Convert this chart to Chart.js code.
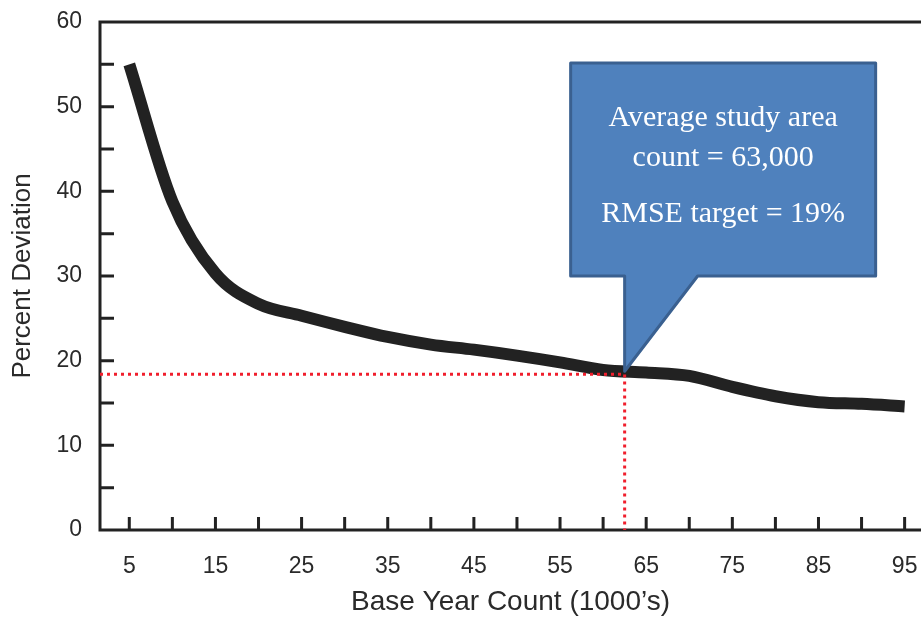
<!DOCTYPE html>
<html>
<head>
<meta charset="utf-8">
<script src="https://cdn.jsdelivr.net/npm/chart.js@4/dist/chart.umd.min.js"></script>
<style>
  body { margin: 0; background: #fff; }
  .wrap { width: 921px; height: 620px; }
</style>
</head>
<body>
<div class="wrap"><canvas id="chart"></canvas></div>
<script>
const baseCount = [5, 10, 15, 20, 25, 30, 35, 40, 45, 50, 55, 60, 65, 70, 75, 80, 85, 90, 95];
const pctDeviation = [55, 38.8, 30.3, 26.7, 25.3, 24, 22.8, 21.9, 21.3, 20.6, 19.8, 18.9, 18.6, 18.2, 16.9, 15.8, 15.1, 14.9, 14.6];

// red dotted guide to the target point
const guideX = [1.6, 62.5, 62.5];
const guideY = [18.4, 18.4, 0];

const xTickLabels = [5, 15, 25, 35, 45, 55, 65, 75, 85, 95];
const xTickMarks = [5, 10, 15, 20, 25, 30, 35, 40, 45, 50, 55, 60, 65, 70, 75, 80, 85, 90, 95];
const yTickMarks = [5, 10, 15, 20, 25, 30, 35, 40, 45, 50, 55];

const calloutLines = ['Average study area', 'count = 63,000', 'RMSE target = 19%'];

const FONT = "'Liberation Sans', Arial, sans-serif";
const INK = '#2a2a2a';

const frame = {
  id: 'frame',
  beforeDatasetsDraw(chart) {
    const {ctx, chartArea: a, scales: {x, y}} = chart;
    ctx.save();
    ctx.strokeStyle = '#222';
    ctx.lineWidth = 3;
    ctx.beginPath();
    ctx.moveTo(a.right, a.top);
    ctx.lineTo(a.left, a.top);
    ctx.lineTo(a.left, a.bottom);
    ctx.lineTo(a.right, a.bottom);
    ctx.stroke();
    ctx.beginPath();
    yTickMarks.forEach(v => {
      const py = y.getPixelForValue(v);
      ctx.moveTo(a.left, py);
      ctx.lineTo(a.left + 14, py);
    });
    xTickMarks.forEach(v => {
      const px = x.getPixelForValue(v);
      ctx.moveTo(px, a.bottom);
      ctx.lineTo(px, a.bottom - 13);
    });
    ctx.stroke();
    ctx.restore();
  }
};

const callout = {
  id: 'callout',
  afterDraw(chart) {
    const {ctx, chartArea: a, scales: {x, y}} = chart;
    const tx = x.getPixelForValue(guideX[1]);
    const ty = y.getPixelForValue(guideY[1]) - 3;
    const left = tx - 54, right = tx + 251;
    const top = a.top + 41, bottom = top + 213;
    ctx.save();
    ctx.beginPath();
    ctx.moveTo(left, top);
    ctx.lineTo(right, top);
    ctx.lineTo(right, bottom);
    ctx.lineTo(tx + 73, bottom);
    ctx.lineTo(tx, ty);
    ctx.lineTo(tx, bottom);
    ctx.lineTo(left, bottom);
    ctx.closePath();
    ctx.fillStyle = '#4f81bd';
    ctx.fill();
    ctx.strokeStyle = '#3a6090';
    ctx.lineWidth = 3;
    ctx.lineJoin = 'round';
    ctx.stroke();
    ctx.fillStyle = '#fff';
    ctx.font = "30px 'Liberation Serif', 'Times New Roman', serif";
    ctx.textAlign = 'center';
    ctx.textBaseline = 'alphabetic';
    const cx = (left + right) / 2;
    const baselines = [top + 63, top + 103, top + 159];
    calloutLines.forEach((t, i) => ctx.fillText(t, cx, baselines[i]));
    ctx.restore();
  }
};

new Chart(document.getElementById('chart').getContext('2d'), {
  type: 'line',
  data: {
    datasets: [{
      data: guideX.map((v, i) => ({x: v, y: guideY[i]})),
      borderColor: '#f01e2c',
      borderWidth: 3,
      borderDash: [3, 4],
      pointRadius: 0,
      tension: 0
    }, {
      data: baseCount.map((v, i) => ({x: v, y: pctDeviation[i]})),
      borderColor: '#222',
      borderWidth: 12,
      borderCapStyle: 'butt',
      borderJoinStyle: 'round',
      pointRadius: 0,
      cubicInterpolationMode: 'monotone'
    }]
  },
  options: {
    responsive: true,
    maintainAspectRatio: false,
    animation: false,
    layout: {
      padding: {top: 22, right: 0, left: 0, bottom: 0}
    },
    plugins: {
      legend: {display: false},
      tooltip: {enabled: false}
    },
    scales: {
      x: {
        type: 'linear',
        min: 1.6,
        max: 96.9,
        grid: {display: false, drawTicks: false},
        border: {display: false},
        afterBuildTicks: s => { s.ticks = xTickLabels.map(v => ({value: v})); },
        afterFit: s => { s.height = 90; s.paddingLeft = 0; s.paddingRight = 0; },
        ticks: {
          color: INK,
          font: {family: FONT, size: 23},
          padding: 23,
          maxRotation: 0,
          autoSkip: false
        },
        title: {
          display: true,
          text: 'Base Year Count (1000’s)',
          color: INK,
          font: {family: FONT, size: 28},
          padding: {top: 0, bottom: 1}
        }
      },
      y: {
        min: 0,
        max: 60,
        grid: {display: false, drawTicks: false},
        border: {display: false},
        afterFit: s => { s.width = 100; s.paddingTop = 0; s.paddingBottom = 0; },
        ticks: {
          stepSize: 10,
          color: INK,
          font: {family: FONT, size: 23},
          padding: 18
        },
        title: {
          display: true,
          text: 'Percent Deviation',
          color: INK,
          font: {family: FONT, size: 26},
          padding: {top: 7, bottom: 0}
        }
      }
    }
  },
  plugins: [frame, callout]
});
</script>
</body>
</html>
